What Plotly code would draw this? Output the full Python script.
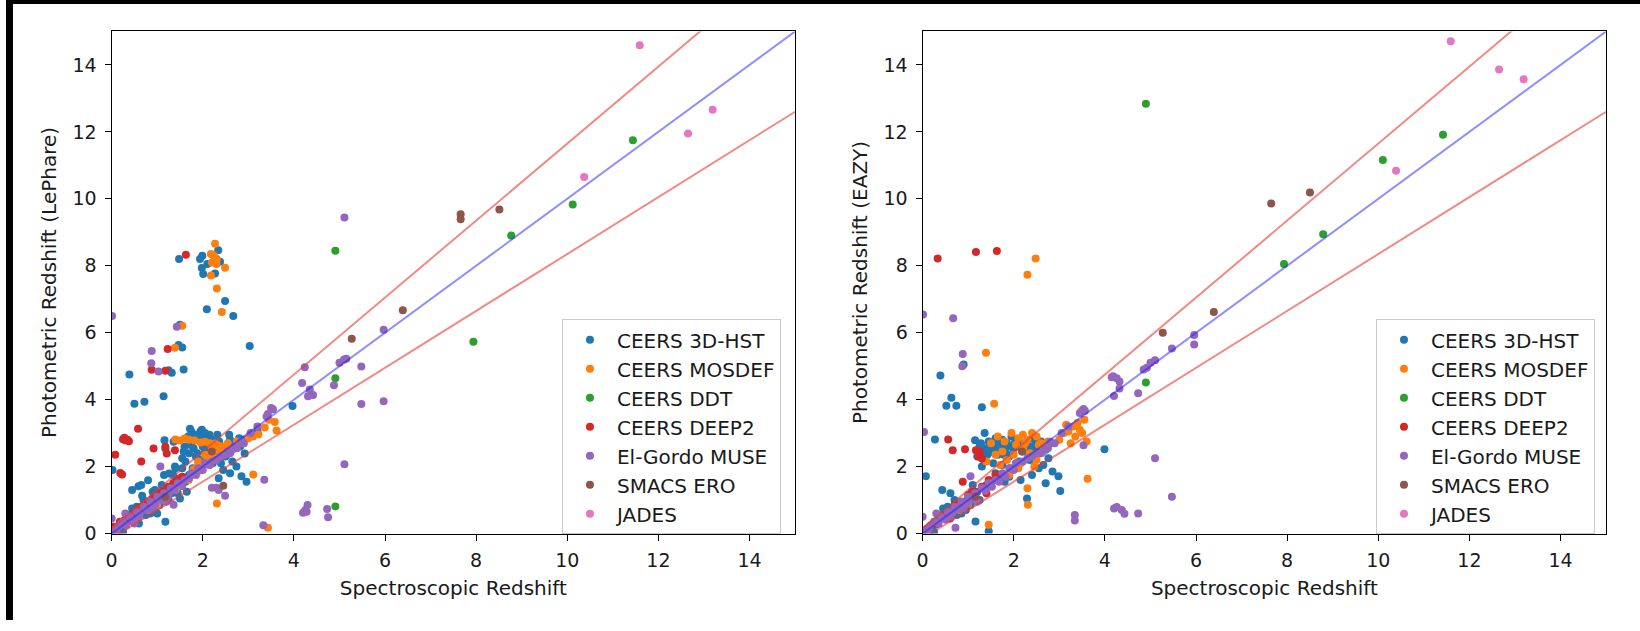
import plotly.graph_objects as go

# ---------------- photometric vs spectroscopic redshift samples ----------------
SERIES = ["CEERS 3D-HST", "CEERS MOSDEF", "CEERS DDT", "CEERS DEEP2",
          "El-Gordo MUSE", "SMACS ERO", "JADES"]
COLORS = ["#1f77b4", "#ff7f0e", "#2ca02c", "#d62728", "#9467bd", "#8c564b", "#e377c2"]

# --- LePhare ---
lp_3dhst_zspec = [1.48, 1.94, 1.99, 1.98, 2.01, 2.34, 2.38, 2.27, 2.10, 2.49, 2.09, 2.67, 3.03, 1.50, 1.55,
                  1.47, 1.58, 1.25, 1.32, 0.39, 1.14, 0.50, 0.72, 3.97,
                  1.72, 1.98, 1.85, 1.16, 1.36, 1.18, 1.39, 1.26, 0.80, 0.59, 0.45, 0.67, 1.18, 2.96,
                  2.71, 2.92, 2.74, 2.85, 0.02,
                  1.65, 1.75, 1.80, 1.90, 1.95, 2.00, 2.05, 1.70, 1.85, 2.10, 2.15, 2.25, 1.60, 1.75, 2.05,
                  1.55, 1.95, 2.20, 2.40, 2.55, 2.60, 2.80, 2.50, 2.65, 2.45, 2.60, 2.35,
                  0.10, 0.20, 0.30, 0.40, 0.50, 0.60, 0.70, 0.80, 0.90, 1.00, 1.10, 1.20, 1.30, 1.40, 1.50,
                  1.60, 1.70, 1.80, 0.35, 0.55, 0.75, 0.95, 1.05, 1.25, 1.45, 0.25, 0.60, 0.85, 1.50, 1.65,
                  0.45, 0.70, 0.90, 1.10, 1.35, 1.55, 1.00, 2.15, 2.30, 2.90, 3.20,
                  0.15, 0.28, 0.42, 0.58, 0.72, 0.88, 1.02, 1.18, 1.32, 1.48, 1.62, 1.78, 1.92, 2.08,
                  2.22, 2.38, 2.52, 2.68, 2.82, 0.65, 0.95, 1.15, 1.40, 1.62, 1.88, 2.12, 2.36, 2.58,
                  1.72, 1.82, 1.95, 2.05, 2.18, 2.32, 1.58, 1.68]
lp_3dhst_zphot = [8.20, 8.20, 8.30, 7.93, 7.75, 8.46, 8.12, 7.77, 8.05, 6.95, 6.70, 6.50, 5.60, 6.24, 5.56,
                  5.63, 4.90, 4.88, 4.80, 4.75, 4.10, 3.88, 3.94, 3.81,
                  3.13, 3.10, 2.95, 2.79, 2.74, 2.54, 2.00, 1.79, 1.59, 1.41, 1.30, 1.13, 0.35, 1.55,
                  2.69, 2.39, 2.00, 1.71, 1.90,
                  2.85, 2.70, 2.55, 2.90, 2.75, 2.60, 2.45, 2.40, 2.30, 2.85, 2.95, 2.80, 2.60, 3.05, 3.00,
                  2.25, 2.20, 2.20, 2.10, 2.50, 2.80, 2.85, 2.30, 2.15, 1.90, 1.80, 1.65,
                  0.12, 0.25, 0.28, 0.45, 0.55, 0.58, 0.75, 0.82, 0.95, 1.05, 1.08, 1.25, 1.30, 1.45, 1.52,
                  1.65, 1.75, 1.85, 0.55, 0.80, 0.55, 0.70, 0.85, 1.00, 1.20, 0.05, 0.30, 0.60, 1.05, 1.25,
                  0.75, 1.00, 1.25, 1.45, 1.75, 1.95, 0.60, 2.40, 2.55, 2.80, 3.05,
                  0.20, 0.35, 0.38, 0.70, 0.62, 0.98, 0.92, 1.30, 1.20, 1.60, 1.55, 1.95, 1.88, 2.20,
                  2.10, 2.45, 2.35, 2.70, 2.60, 1.45, 1.30, 1.75, 1.95, 2.15, 2.40, 2.62, 2.75, 2.95,
                  2.65, 2.95, 3.05, 2.85, 2.60, 2.95, 2.45, 2.90]

lp_mosdef_zspec = [2.27, 2.18, 2.25, 2.31, 2.20, 2.30, 2.49, 2.18, 2.31, 2.42, 1.55, 1.39,
                   1.40, 1.50, 1.60, 1.70, 1.82, 1.95, 2.05, 2.15, 2.27, 2.35,
                   1.80, 1.90, 2.05, 2.20, 1.69, 1.54, 2.00, 2.10, 2.30, 2.40, 2.50, 1.95, 2.25, 2.45,
                   2.55, 2.15, 1.40, 1.20, 1.00, 0.80,
                   3.11, 2.31, 3.43, 3.36, 3.58, 3.62, 3.22, 3.10, 3.00, 3.45, 2.90,
                   1.75, 1.88, 2.12, 2.38, 2.62, 2.75]
lp_mosdef_zphot = [8.66, 8.35, 8.30, 8.20, 8.10, 8.05, 7.94, 7.71, 7.32, 6.62, 6.21, 5.55,
                   2.81, 2.78, 2.84, 2.80, 2.78, 2.72, 2.74, 2.70, 2.69, 2.62,
                   1.91, 2.15, 2.35, 2.54, 1.60, 1.42, 2.05, 2.20, 2.40, 2.50, 2.45, 1.90, 2.25, 2.60,
                   2.70, 2.05, 1.30, 1.05, 0.85, 0.70,
                   1.76, 0.90, 0.17, 3.17, 3.33, 3.08, 2.96, 2.90, 2.85, 3.40, 2.70,
                   1.75, 2.00, 2.30, 2.30, 2.55, 2.75]

lp_ddt_zspec = [4.91, 8.77, 10.12, 11.44, 7.94, 4.91, 4.91]
lp_ddt_zphot = [8.45, 8.90, 9.83, 11.75, 5.73, 4.64, 0.81]

lp_deep2_zspec = [1.63, 1.23, 0.88, 1.18,
                  0.25, 0.30, 0.35, 0.28, 0.38, 0.58, 0.92, 1.18, 1.21, 1.39, 0.08, 0.19, 0.23, 0.65,
                  0.10, 0.20, 0.35, 0.50, 0.65, 0.80, 0.95, 1.10, 1.25, 1.40, 1.55, 0.45, 0.85,
                  0.05, 0.18, 0.28, 0.42, 0.58, 0.72, 0.90, 1.05, 1.35, 1.50]
lp_deep2_zphot = [8.33, 5.51, 4.89, 4.86,
                  2.82, 2.79, 2.80, 2.86, 2.76, 3.13, 2.54, 2.59, 2.39, 2.49, 2.35, 1.81, 1.76, 2.15,
                  0.15, 0.30, 0.45, 0.62, 0.80, 0.95, 1.12, 1.25, 1.40, 1.55, 1.70, 0.40, 0.80,
                  0.20, 0.35, 0.40, 0.55, 0.75, 0.85, 1.05, 1.20, 1.50, 1.65]

lp_muse_zspec = [0.01, 1.43, 0.88, 0.87, 1.03, 4.24, 4.18, 5.11, 5.97, 5.10, 5.00, 5.15, 5.48, 4.88, 4.31,
                 4.42, 4.35, 5.48, 5.97, 5.11, 4.20, 4.25, 4.30, 4.28, 4.73, 4.75,
                 1.07, 2.20, 2.30, 2.35, 2.49, 1.36, 3.33, 3.54, 3.43, 3.35, 3.50,
                 0.05, 0.15, 0.25, 0.40, 0.55, 0.70, 0.85, 1.00, 1.15, 1.30, 1.45, 1.60, 1.75, 1.90,
                 2.05, 2.20, 2.40, 2.60, 2.75, 2.90, 3.05, 3.20, 0.00, 0.30, 0.60, 0.90, 1.20, 0.50,
                 2.55, 2.70, 2.00, 3.40,
                 0.10, 0.20, 0.32, 0.45, 0.62, 0.78, 0.95, 1.08, 1.25, 1.38, 1.55, 1.70, 1.85, 2.15,
                 2.30, 2.48, 2.65, 2.85]
lp_muse_zphot = [6.50, 6.18, 5.45, 5.09, 4.84, 4.97, 4.50, 9.44, 6.09, 5.20, 5.10, 5.22, 4.99, 4.43, 4.10,
                 4.14, 4.30, 3.87, 3.95, 2.07, 0.62, 0.70, 0.85, 0.65, 0.73, 0.49,
                 2.00, 1.37, 1.37, 1.30, 1.13, 0.86, 0.25, 3.71, 3.57, 1.61, 3.75,
                 0.10, 0.20, 0.35, 0.50, 0.65, 0.80, 0.95, 1.10, 1.20, 1.35, 1.50, 1.60, 1.80, 1.95,
                 2.10, 2.15, 2.30, 2.40, 2.55, 2.70, 3.00, 3.20, 0.45, 0.60, 0.50, 0.75, 0.95, 0.30,
                 2.45, 2.60, 1.90, 3.50,
                 0.05, 0.28, 0.25, 0.42, 0.60, 0.70, 0.85, 1.00, 1.15, 1.30, 1.42, 1.65, 1.75, 2.05,
                 2.20, 2.35, 2.50, 2.75]

lp_smacs_zspec = [7.66, 7.66, 8.51, 6.39, 5.27, 2.45, 2.20, 1.18]
lp_smacs_zphot = [9.54, 9.39, 9.68, 6.67, 5.82, 1.43, 2.45, 1.09]

lp_jades_zspec = [11.59, 10.37, 12.65, 13.19]
lp_jades_zphot = [14.59, 10.65, 11.95, 12.66]

# --- EAZY ---
ez_3dhst_zspec = [0.90, 0.39, 0.63, 0.52, 0.74, 1.30, 0.27, 1.36, 1.15, 3.99, 0.07, 0.43, 0.61, 1.16, 1.45,
                  2.29, 2.76, 2.98, 3.02, 2.70, 2.85, 2.55,
                  1.25, 1.30, 1.35, 1.40, 1.45, 1.50, 1.55, 1.60, 1.65, 1.70, 1.75, 1.80, 1.85, 1.90,
                  1.95, 2.00, 2.10, 2.20, 2.30, 2.40, 2.50, 2.60, 2.70, 2.80, 1.20, 1.30, 1.55, 1.75,
                  2.05, 2.35, 2.65, 1.60, 1.90, 2.15, 2.40, 1.50, 1.80,
                  0.10, 0.20, 0.30, 0.40, 0.50, 0.60, 0.70, 0.80, 0.90, 1.00, 1.10, 1.20, 1.40, 1.60,
                  0.35, 0.55, 0.75, 0.95, 1.05, 1.25, 0.25, 0.85, 0.45, 0.70, 1.10,
                  1.28, 1.38, 1.48, 1.58, 1.68, 1.78, 1.88, 1.98, 2.08, 2.18, 2.28, 2.38, 2.48, 2.58,
                  2.68, 1.42, 1.62, 1.82, 2.02, 2.22, 2.42, 2.62, 0.15, 0.32, 0.48, 0.65, 0.82, 1.00,
                  1.15, 1.32, 1.50, 1.70, 1.92, 2.12]
ez_3dhst_zphot = [5.05, 4.72, 4.06, 3.82, 3.82, 3.77, 2.81, 3.00, 2.79, 2.52, 1.71, 1.30, 1.20, 0.36, 0.07,
                  1.05, 2.25, 1.71, 1.27, 1.50, 1.85, 1.95,
                  2.60, 2.40, 2.20, 2.55, 2.75, 2.45, 2.65, 2.85, 2.35, 2.60, 2.80, 2.50, 2.70, 2.30,
                  2.90, 2.55, 2.75, 2.45, 2.65, 2.85, 2.55, 2.75, 2.50, 2.70, 2.30, 2.00, 2.10, 2.05,
                  2.10, 2.20, 2.05, 1.80, 1.70, 1.60, 1.75, 1.50, 1.55,
                  0.12, 0.25, 0.28, 0.45, 0.55, 0.58, 0.75, 0.82, 0.95, 1.05, 1.08, 1.25, 1.45, 1.65,
                  0.55, 0.80, 0.55, 0.70, 0.85, 1.00, 0.05, 0.60, 0.75, 1.00, 1.45,
                  2.70, 2.50, 2.65, 2.40, 2.70, 2.35, 2.60, 2.40, 2.60, 2.70, 2.50, 2.60, 2.75, 2.40,
                  2.65, 2.35, 2.50, 2.40, 2.70, 2.55, 2.40, 2.55, 0.20, 0.38, 0.52, 0.66, 0.86, 1.02,
                  1.20, 1.38, 1.55, 1.72, 1.95, 2.15]

ez_mosdef_zspec = [2.48, 2.30, 1.39, 1.57, 3.62, 2.30, 2.31, 1.45,
                   1.50, 1.65, 1.80, 1.95, 2.10, 2.20, 2.30, 2.40, 2.50, 2.60, 2.20, 2.00, 1.85, 1.70,
                   2.35, 2.50, 2.65, 1.60, 1.40, 2.10, 2.45, 1.90,
                   3.00, 3.10, 3.20, 3.30, 3.40, 3.45, 3.50, 3.35, 3.55, 3.49, 3.25, 3.60, 3.15,
                   1.00, 1.20, 0.80,
                   2.05, 2.25, 2.55, 2.75, 1.75, 2.15]
ez_mosdef_zphot = [8.22, 7.73, 5.40, 3.88, 1.64, 1.35, 0.86, 0.26,
                   2.70, 2.90, 2.75, 3.00, 2.85, 2.95, 2.80, 3.00, 2.90, 2.70, 2.55, 2.35, 2.20, 2.05,
                   2.40, 2.20, 2.45, 2.35, 2.15, 1.95, 2.00, 1.75,
                   2.80, 3.00, 3.05, 3.20, 3.30, 3.10, 3.00, 2.90, 3.40, 3.67, 2.70, 2.75, 3.25,
                   0.85, 1.00, 0.70,
                   2.65, 2.70, 2.65, 2.75, 2.45, 2.10]

ez_ddt_zspec = [4.90, 11.42, 10.10, 8.79, 7.93, 4.90]
ez_ddt_zphot = [12.84, 11.91, 11.16, 8.94, 8.05, 4.51]

ez_deep2_zspec = [0.33, 1.17, 1.63, 0.56, 0.66, 0.93, 1.17, 1.23, 1.30, 1.25, 0.88,
                  0.10, 0.25, 0.40, 0.55, 0.70, 0.85, 1.00, 1.15, 1.30, 1.45, 0.60, 0.95, 1.20, 1.40,
                  1.60, 0.18, 0.48, 0.78, 1.08]
ez_deep2_zphot = [8.22, 8.41, 8.44, 2.81, 2.49, 2.52, 2.49, 2.30, 2.24, 2.45, 1.55,
                  0.15, 0.30, 0.50, 0.65, 0.85, 0.95, 1.15, 1.25, 1.40, 1.60, 0.45, 0.80, 1.00, 1.20,
                  1.75, 0.25, 0.55, 0.90, 1.25]

ez_muse_zspec = [0.01, 0.67, 0.88, 0.87, 4.18, 0.03, 1.05, 3.56, 3.53, 3.34, 3.34, 0.72,
                 5.96, 5.96, 5.47, 5.10, 5.00, 4.92, 4.85, 4.73, 4.15, 4.26, 4.32, 4.20, 4.32, 3.53,
                 3.45, 5.10, 5.47, 4.26, 4.37, 4.43, 4.73, 4.20, 2.80, 0.00,
                 0.05, 0.15, 0.25, 0.40, 0.55, 0.70, 0.85, 1.00, 1.15, 1.30, 1.45, 1.60, 1.75, 1.90,
                 2.05, 2.20, 2.40, 2.60, 2.75, 2.90, 3.05, 3.20, 0.30, 0.60, 0.90, 1.20, 2.00, 2.50,
                 0.12, 0.35, 0.50, 0.65, 0.80, 0.98, 1.10, 1.38, 1.52, 1.68, 1.82, 2.30, 2.68]
ez_muse_zphot = [6.54, 6.43, 5.36, 5.00, 4.70, 3.03, 1.71, 3.67, 2.64, 0.55, 0.39, 0.17,
                 5.93, 5.65, 5.53, 5.18, 5.10, 4.95, 4.90, 4.19, 4.67, 4.64, 4.54, 4.11, 4.33, 3.72,
                 3.60, 2.25, 1.10, 0.79, 0.70, 0.59, 0.60, 0.75, 2.74, 0.50,
                 0.10, 0.20, 0.35, 0.50, 0.65, 0.80, 0.95, 1.10, 1.20, 1.35, 1.50, 1.60, 1.80, 1.95,
                 2.10, 2.15, 2.30, 2.40, 2.55, 2.70, 3.00, 3.20, 0.60, 0.50, 0.75, 0.95, 1.90, 2.40,
                 0.05, 0.30, 0.42, 0.62, 0.72, 0.88, 1.05, 1.28, 1.40, 1.55, 1.70, 2.25, 2.50]

ez_smacs_zspec = [7.65, 8.50, 6.39, 5.27, 2.18, 1.16]
ez_smacs_zphot = [9.86, 10.19, 6.62, 6.00, 2.45, 1.10]

ez_jades_zspec = [11.59, 12.65, 13.19, 10.39]
ez_jades_zphot = [14.71, 13.86, 13.57, 10.84]

LEPHARE = [(lp_3dhst_zspec, lp_3dhst_zphot), (lp_mosdef_zspec, lp_mosdef_zphot),
           (lp_ddt_zspec, lp_ddt_zphot), (lp_deep2_zspec, lp_deep2_zphot),
           (lp_muse_zspec, lp_muse_zphot), (lp_smacs_zspec, lp_smacs_zphot),
           (lp_jades_zspec, lp_jades_zphot)]
EAZY = [(ez_3dhst_zspec, ez_3dhst_zphot), (ez_mosdef_zspec, ez_mosdef_zphot),
        (ez_ddt_zspec, ez_ddt_zphot), (ez_deep2_zspec, ez_deep2_zphot),
        (ez_muse_zspec, ez_muse_zphot), (ez_smacs_zspec, ez_smacs_zphot),
        (ez_jades_zspec, ez_jades_zphot)]

# one-to-one relation and the +/-0.15(1+z) outlier bounds
Z_LINE = [0.0, 15.0]
OUTLIER_FRAC = 0.15

W, H = 1640, 631
FONT = "DejaVu Sans"
TEXT = "#1a1a1a"
TICK_SIZE = 19
LABEL_SIZE = 20

fig = go.Figure()

for panel, (data, xa, ya, leg) in enumerate([(LEPHARE, "x", "y", "legend"),
                                             (EAZY, "x2", "y2", "legend2")]):
    for name, color, (zs, zp) in zip(SERIES, COLORS, data):
        fig.add_trace(go.Scatter(
            x=zs, y=zp, mode="markers", name=name,
            marker=dict(color=color, size=8, line=dict(width=0)),
            xaxis=xa, yaxis=ya, legend=leg, showlegend=True))
    upper = [z + OUTLIER_FRAC * (1 + z) for z in Z_LINE]
    lower = [z - OUTLIER_FRAC * (1 + z) for z in Z_LINE]
    for yy, col in [(upper, "rgba(230,60,50,0.6)"), (lower, "rgba(230,60,50,0.6)"),
                    (Z_LINE, "rgba(30,30,255,0.5)")]:
        fig.add_trace(go.Scatter(
            x=Z_LINE, y=yy, mode="lines", line=dict(color=col, width=2),
            xaxis=xa, yaxis=ya, showlegend=False, hoverinfo="skip"))

axis_common = dict(range=[0, 15], dtick=2, tick0=0, ticks="outside", ticklen=6, tickwidth=1.2,
                   tickcolor="black", showline=True, linecolor="black", linewidth=1.2,
                   mirror=True, showgrid=False, zeroline=False, ticklabelstandoff=4,
                   tickfont=dict(family=FONT, size=TICK_SIZE, color=TEXT))
ydom = [(H - 543) / H, (H - 32) / H]

legend_common = dict(xanchor="left", yanchor="top", y=(H - 325) / H,
                     bgcolor="rgba(255,255,255,0.9)", bordercolor="#cccccc", borderwidth=1,
                     font=dict(family=FONT, size=LABEL_SIZE, color=TEXT), itemwidth=44)


def title(text):
    return dict(text=text, standoff=10, font=dict(family=FONT, size=LABEL_SIZE, color=TEXT))


fig.update_layout(
    width=W, height=H, margin=dict(l=0, r=0, t=0, b=0),
    paper_bgcolor="white", plot_bgcolor="white",
    font=dict(family=FONT, color=TEXT),
    xaxis=dict(domain=[106 / W, 792 / W], anchor="y",
               title=title("Spectroscopic Redshift"), **axis_common),
    yaxis=dict(domain=ydom, anchor="x",
               title=title("Photometric Redshift (LePhare)"), **axis_common),
    xaxis2=dict(domain=[920 / W, 1606 / W], anchor="y2",
                title=title("Spectroscopic Redshift"), **axis_common),
    yaxis2=dict(domain=ydom, anchor="x2",
                title=title("Photometric Redshift (EAZY)"), **axis_common),
    legend=dict(x=558 / W, **legend_common),
    legend2=dict(x=1375 / W, **legend_common),
    shapes=[
        dict(type="rect", xref="paper", yref="paper", x0=0, x1=7 / W, y0=0, y1=1,
             fillcolor="black", line=dict(width=0), layer="above"),
        dict(type="rect", xref="paper", yref="paper", x0=0, x1=1, y0=(H - 4) / H, y1=1,
             fillcolor="black", line=dict(width=0), layer="above"),
    ],
)

fig.write_html("out.html")
